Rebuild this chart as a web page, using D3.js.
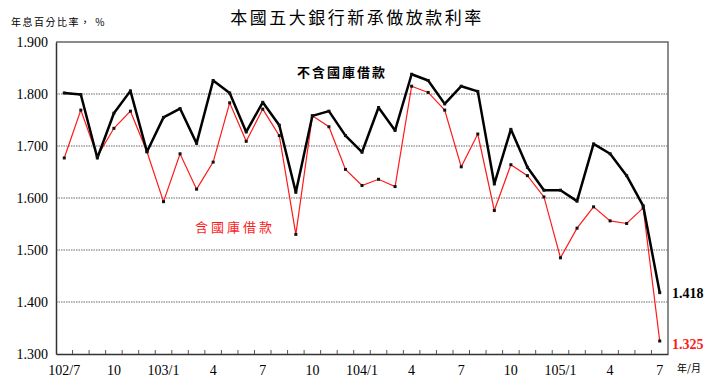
<!DOCTYPE html>
<html>
<head>
<meta charset="utf-8">
<script src="https://cdn.jsdelivr.net/npm/d3@7"></script>
<style>
  body { margin: 0; background: #fff; }
  svg { display: block; }
</style>
</head>
<body>
<script>
/**Data */
const months = ["102/7", "8", "9", "10", "11", "12", "103/1", "2", "3", "4", "5", "6",
  "7", "8", "9", "10", "11", "12", "104/1", "2", "3", "4", "5", "6",
  "7", "8", "9", "10", "11", "12", "105/1", "2", "3", "4", "5", "6", "7"];
// every third month gets a label
const tickLabels = ["102/7", "10", "103/1", "4", "7", "10", "104/1", "4", "7", "10", "105/1", "4", "7"];
const exclTreasury = [1.802, 1.799, 1.677, 1.763, 1.806, 1.689, 1.755, 1.772, 1.705, 1.826, 1.802, 1.727,
  1.784, 1.740, 1.611, 1.758, 1.767, 1.720, 1.688, 1.774, 1.730, 1.838, 1.826, 1.781,
  1.815, 1.805, 1.627, 1.732, 1.659, 1.615, 1.615, 1.594, 1.704, 1.685, 1.643, 1.585, 1.418];
const inclTreasury = [1.677, 1.769, 1.680, 1.734, 1.767, 1.689, 1.593, 1.685, 1.617, 1.669, 1.783, 1.709,
  1.771, 1.720, 1.530, 1.758, 1.737, 1.655, 1.624, 1.636, 1.622, 1.815, 1.803, 1.769,
  1.660, 1.723, 1.576, 1.664, 1.643, 1.602, 1.485, 1.542, 1.583, 1.556, 1.551, 1.581, 1.325];
const yTicks = [1.3, 1.4, 1.5, 1.6, 1.7, 1.8, 1.9];

/**Layout */
const width = 710;
const height = 385;
const margin = { top: 42, right: 42, bottom: 31, left: 56 };
const serif = "'Liberation Serif', 'Times New Roman', serif";
const cjk = "'Noto Sans CJK TC', sans-serif";

const svg = d3.select("body").append("svg")
  .attr("width", width)
  .attr("height", height);

const x = d3.scaleBand()
  .domain(d3.range(months.length))
  .range([margin.left, width - margin.right]);

const y = d3.scaleLinear()
  .domain([1.3, 1.9])
  .range([height - margin.bottom, margin.top]);

const cx = (i) => x(i) + x.bandwidth() / 2;

// title and unit
svg.append("text")
  .attr("x", 357).attr("y", 24)
  .attr("text-anchor", "middle")
  .attr("font-family", cjk)
  .attr("font-size", "17px")
  .attr("letter-spacing", "2.5px")
  .text("本國五大銀行新承做放款利率");

svg.append("text")
  .attr("x", 11).attr("y", 26)
  .attr("font-family", cjk)
  .attr("font-size", "10px")
  .attr("letter-spacing", "1.5px")
  .text("年息百分比率，  %");

// gridlines
svg.append("g")
  .selectAll("line")
  .data(yTicks.filter(d => d > 1.3 && d < 1.9))
  .enter().append("line")
  .attr("x1", margin.left).attr("x2", width - margin.right)
  .attr("y1", d => y(d)).attr("y2", d => y(d))
  .attr("stroke", "#9a9a9a")
  .attr("stroke-width", 1.3)
  .attr("stroke-dasharray", "1.5,1");

// frame: top and right in gray
svg.append("path")
  .attr("d", `M${margin.left},${y(1.9)}H${width - margin.right}V${y(1.3)}`)
  .attr("fill", "none")
  .attr("stroke", "#666")
  .attr("stroke-width", 1.5);

// y axis
const yAxis = svg.append("g")
  .attr("transform", `translate(${margin.left},0)`)
  .call(d3.axisLeft(y).tickValues(yTicks).tickFormat(d3.format(".3f")).tickSize(0).tickPadding(8));
yAxis.select(".domain").attr("stroke", "#333").attr("stroke-width", 1.5);
yAxis.selectAll("text").attr("font-family", serif).attr("font-size", "14px").attr("fill", "#000");

// x axis, ticks between months pointing up
const xAxis = svg.append("g")
  .attr("transform", `translate(0,${y(1.3)})`)
  .call(d3.axisBottom(x).tickValues([]).tickSizeOuter(0));
xAxis.select(".domain").attr("stroke", "#333").attr("stroke-width", 1.5);
xAxis.selectAll(".tb")
  .data(d3.range(1, months.length))
  .enter().append("line")
  .attr("x1", d => x(d)).attr("x2", d => x(d))
  .attr("y1", 0).attr("y2", -4)
  .attr("stroke", "#555");
xAxis.selectAll(".lbl")
  .data(d3.range(0, months.length, 3))
  .enter().append("text")
  .attr("x", d => cx(d))
  .attr("y", 21)
  .attr("text-anchor", "middle")
  .attr("font-family", serif)
  .attr("font-size", "14px")
  .attr("fill", "#000")
  .text((d, i) => tickLabels[i]);

svg.append("text")
  .attr("x", 677).attr("y", 372)
  .attr("font-family", cjk)
  .attr("font-size", "10px")
  .text("年/月");

// lines
const line = d3.line().x((d, i) => cx(i)).y(d => y(d));

svg.append("path")
  .datum(inclTreasury)
  .attr("d", line)
  .attr("fill", "none")
  .attr("stroke", "#ff1a1a")
  .attr("stroke-width", 1.2);

svg.append("path")
  .datum(exclTreasury)
  .attr("d", line)
  .attr("fill", "none")
  .attr("stroke", "#000")
  .attr("stroke-width", 2.5)
  .attr("stroke-linejoin", "round");

[inclTreasury, exclTreasury].forEach(series => {
  svg.append("g")
    .selectAll("rect")
    .data(series)
    .enter().append("rect")
    .attr("x", (d, i) => cx(i) - 1.5)
    .attr("y", d => y(d) - 1.5)
    .attr("width", 3).attr("height", 3)
    .attr("fill", "#111");
});

// series labels
svg.append("text")
  .attr("x", 297).attr("y", 77)
  .attr("font-family", cjk)
  .attr("font-size", "13px")
  .attr("font-weight", "bold")
  .attr("letter-spacing", "2px")
  .text("不含國庫借款");

svg.append("text")
  .attr("x", 195).attr("y", 232)
  .attr("font-family", cjk)
  .attr("font-size", "13px")
  .attr("letter-spacing", "3px")
  .attr("fill", "#ff1a1a")
  .text("含國庫借款");

// last values
const last = months.length - 1;
svg.append("text")
  .attr("x", 672).attr("y", y(exclTreasury[last]) + 5)
  .attr("font-family", serif)
  .attr("font-size", "14px")
  .attr("font-weight", "bold")
  .text(exclTreasury[last].toFixed(3));

svg.append("text")
  .attr("x", 672).attr("y", y(inclTreasury[last]) + 8)
  .attr("font-family", serif)
  .attr("font-size", "14px")
  .attr("font-weight", "bold")
  .attr("fill", "#ff1a1a")
  .text(inclTreasury[last].toFixed(3));
</script>
</body>
</html>
